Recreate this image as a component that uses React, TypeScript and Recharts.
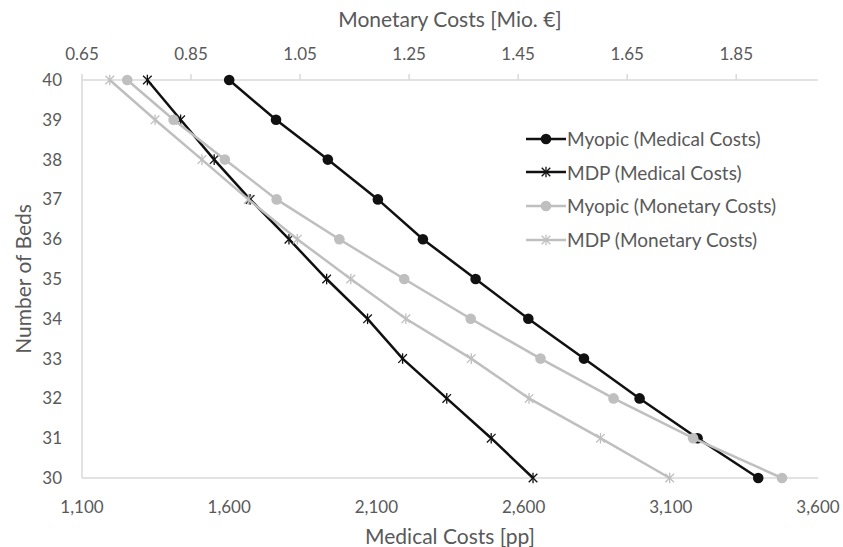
import React from "react"
import {
  Label,
  Legend,
  Scatter,
  ScatterChart,
  XAxis,
  YAxis,
} from "recharts"

// number of beds, top to bottom
const beds = [40, 39, 38, 37, 36, 35, 34, 33, 32, 31, 30]

// medical costs [pp] (bottom axis)
const myopicMedical = [1600, 1759, 1935, 2105, 2258, 2437, 2616, 2805, 2994, 3191, 3397]
const mdpMedical = [1322, 1435, 1549, 1671, 1803, 1931, 2070, 2189, 2339, 2490, 2632]

// monetary costs [Mio. €] (top axis)
const myopicMonetary = [0.733, 0.818, 0.912, 1.007, 1.122, 1.241, 1.363, 1.491, 1.625, 1.771, 1.934]
const mdpMonetary = [0.701, 0.784, 0.87, 0.955, 1.045, 1.143, 1.244, 1.364, 1.47, 1.601, 1.728]

const medicalTicks = [1100, 1600, 2100, 2600, 3100, 3600]
const monetaryTicks = [0.65, 0.85, 1.05, 1.25, 1.45, 1.65, 1.85]
const bedTicks = [30, 31, 32, 33, 34, 35, 36, 37, 38, 39, 40]

const BLACK = "#111111"
const GREY = "#bfbfbf"
const TEXT = "#595959"
const AXIS = "#d9d9d9"
const FONT = "Lato, 'Open Sans', sans-serif"

type Marker = "dot" | "star"

interface SeriesDef {
  name: string
  values: number[]
  axis: "medical" | "monetary"
  color: string
  marker: Marker
}

const series: SeriesDef[] = [
  { name: "Myopic (Medical Costs)", values: myopicMedical, axis: "medical", color: BLACK, marker: "dot" },
  { name: "MDP (Medical Costs)", values: mdpMedical, axis: "medical", color: BLACK, marker: "star" },
  { name: "Myopic (Monetary Costs)", values: myopicMonetary, axis: "monetary", color: GREY, marker: "dot" },
  { name: "MDP (Monetary Costs)", values: mdpMonetary, axis: "monetary", color: GREY, marker: "star" },
]

function MarkerGlyph({ cx, cy, color, marker }: { cx: number; cy: number; color: string; marker: Marker }) {
  if (marker === "dot") return <circle cx={cx} cy={cy} r={5.3} fill={color} />
  const s = 4.3
  return (
    <g stroke={color} strokeWidth={1.3}>
      <line x1={cx - s} y1={cy - s} x2={cx + s} y2={cy + s} />
      <line x1={cx - s} y1={cy + s} x2={cx + s} y2={cy - s} />
      <line x1={cx} y1={cy - s - 1} x2={cx} y2={cy + s + 1} />
    </g>
  )
}

function LegendContent() {
  return (
    <div style={{ fontFamily: FONT, fontSize: 19, color: TEXT }}>
      {series.map((s) => (
        <div key={s.name} style={{ display: "flex", alignItems: "center", height: 33.6 }}>
          <svg width={40} height={14} style={{ marginRight: 1 }}>
            <line x1={0} y1={7} x2={40} y2={7} stroke={s.color} strokeWidth={2.5} />
            <MarkerGlyph cx={20} cy={7} color={s.color} marker={s.marker} />
          </svg>
          <span>{s.name}</span>
        </div>
      ))}
    </div>
  )
}

function fmtMedical(v: number) {
  return v.toLocaleString("en-US")
}

export default function App() {
  const tick = { fill: TEXT, fontSize: 17, fontFamily: FONT }
  const title = { fill: TEXT, fontSize: 21, fontFamily: FONT }
  return (
    <div style={{ position: "absolute", left: 0, top: 0 }}>
      <ScatterChart width={843} height={547} margin={{ top: 0, right: 25, bottom: 0, left: 0 }}>
        <XAxis
          xAxisId="medical"
          type="number"
          dataKey="x"
          orientation="bottom"
          domain={[1100, 3600]}
          ticks={medicalTicks}
          tickFormatter={fmtMedical}
          height={69}
          tick={tick}
          tickLine={false}
          tickSize={6}
          tickMargin={17}
          axisLine={{ stroke: AXIS, strokeWidth: 1.5 }}
          allowDataOverflow
        >
          <Label value="Medical Costs [pp]" position="insideBottom" offset={3} style={title} />
        </XAxis>
        <XAxis
          xAxisId="monetary"
          type="number"
          dataKey="x"
          orientation="top"
          domain={[0.65, 2.0]}
          ticks={monetaryTicks}
          tickFormatter={(v: number) => v.toFixed(2)}
          height={80}
          tick={tick}
          tickLine={{ stroke: AXIS, strokeWidth: 1.5 }}
          tickSize={6}
          tickMargin={14}
          axisLine={{ stroke: AXIS, strokeWidth: 1.5 }}
          allowDataOverflow
        >
          <Label value="Monetary Costs [Mio. €]" position="insideTop" offset={12} style={title} />
        </XAxis>
        <YAxis
          yAxisId="beds"
          type="number"
          dataKey="y"
          domain={[30, 40]}
          ticks={bedTicks}
          width={82}
          tick={tick}
          tickLine={false}
          tickSize={6}
          tickMargin={14}
          axisLine={{ stroke: AXIS, strokeWidth: 1.5 }}
        >
          <Label
            content={({ viewBox }: any) => {
              const cx = viewBox.x + 22
              const cy = viewBox.y + viewBox.height / 2
              return (
                <text
                  x={cx}
                  y={cy}
                  transform={`rotate(-90, ${cx}, ${cy})`}
                  textAnchor="middle"
                  dominantBaseline="central"
                  fill={TEXT}
                  fontSize={21}
                  fontFamily={FONT}
                >
                  Number of Beds
                </text>
              )
            }}
          />
        </YAxis>
        <Legend
          layout="vertical"
          align="center"
          verticalAlign="middle"
          wrapperStyle={{ left: 526, top: 122, width: "auto" }}
          content={<LegendContent />}
        />
        {series.map((s) => (
          <Scatter
            key={s.name}
            name={s.name}
            data={s.values.map((v, i) => ({ x: v, y: beds[i] }))}
            xAxisId={s.axis}
            yAxisId="beds"
            line={{ stroke: s.color, strokeWidth: 2.5 }}
            lineType="joint"
            shape={(p: any) => <MarkerGlyph cx={p.cx} cy={p.cy} color={s.color} marker={s.marker} />}
            isAnimationActive={false}
          />
        ))}
      </ScatterChart>
    </div>
  )
}
